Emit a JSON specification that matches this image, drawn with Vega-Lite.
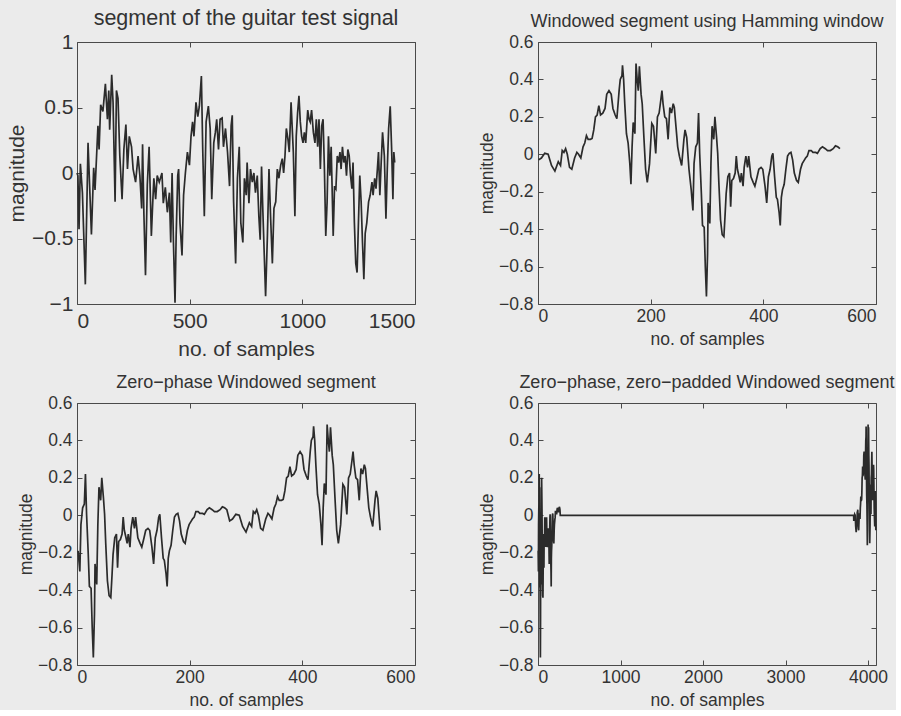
{
  "$schema": "https://vega.github.io/schema/vega-lite/v6.json",
  "background": "#ebebeb",
  "autosize": {"type": "pad"},
  "padding": {"left": 6, "top": 7, "right": 0, "bottom": 0},
  "columns": 2,
  "spacing": {"row": 99, "column": 123},
  "bounds": "flush",
  "config": {
    "font": "Liberation Sans",
    "view": {"stroke": "#4a4a4a", "strokeWidth": 1},
    "axis": {
      "grid": false,
      "domain": false,
      "tickColor": "#4a4a4a",
      "tickSize": -5,
      "labelColor": "#333333",
      "titleColor": "#333333",
      "labelFont": "Liberation Sans",
      "titleFont": "Liberation Sans",
      "titleFontWeight": "normal",
      "labelFontSize": 17.5,
      "titleFontSize": 17.5,
      "labelPadding": 8,
      "titlePadding": 6,
      "format": "~f"
    },
    "axisLeft": {"labelPadding": 10, "titlePadding": 2},
    "title": {"font": "Liberation Sans", "fontSize": 18, "fontWeight": "normal", "color": "#333333", "offset": 2}
  },
  "datasets": {
    "guitar": [
      {"n":0,"v":0.0},{"n":4,"v":-0.02},{"n":9,"v":-0.43},{"n":15,"v":0.07},{"n":24,"v":-0.15},{"n":37,"v":-0.85},
      {"n":49,"v":0.23},{"n":64,"v":-0.47},{"n":74,"v":0.04},{"n":80,"v":-0.13},{"n":93,"v":0.36},{"n":98,"v":0.18},
      {"n":105,"v":0.52},{"n":115,"v":0.47},{"n":126,"v":0.68},{"n":135,"v":0.41},{"n":141,"v":0.63},{"n":145,"v":0.33},
      {"n":154,"v":0.75},{"n":160,"v":0.54},{"n":169,"v":-0.22},{"n":175,"v":0.63},{"n":182,"v":0.57},{"n":190,"v":0.13},
      {"n":200,"v":-0.2},{"n":208,"v":0.18},{"n":217,"v":0.37},{"n":224,"v":0.03},{"n":232,"v":0.28},{"n":242,"v":0.2},
      {"n":249,"v":0.03},{"n":260,"v":-0.07},{"n":271,"v":0.13},{"n":279,"v":-0.02},{"n":287,"v":-0.27},{"n":291,"v":0.22},
      {"n":297,"v":-0.32},{"n":304,"v":-0.78},{"n":312,"v":-0.09},{"n":320,"v":0.2},{"n":330,"v":-0.48},{"n":335,"v":-0.27},
      {"n":341,"v":-0.04},{"n":349,"v":-0.2},{"n":356,"v":-0.02},{"n":365,"v":-0.07},{"n":377,"v":0.0},{"n":383,"v":-0.23},
      {"n":392,"v":-0.11},{"n":401,"v":-0.3},{"n":410,"v":-0.15},{"n":416,"v":-0.53},{"n":422,"v":0.0},{"n":428,"v":-0.53},
      {"n":435,"v":-0.99},{"n":440,"v":-0.48},{"n":447,"v":-0.02},{"n":451,"v":0.03},{"n":457,"v":-0.38},{"n":466,"v":-0.63},
      {"n":473,"v":-0.17},{"n":481,"v":0.0},{"n":490,"v":0.16},{"n":499,"v":0.06},{"n":506,"v":0.28},{"n":513,"v":0.39},
      {"n":519,"v":0.28},{"n":528,"v":0.54},{"n":536,"v":0.43},{"n":543,"v":0.51},{"n":552,"v":0.74},{"n":558,"v":0.18},
      {"n":565,"v":-0.33},{"n":573,"v":0.39},{"n":583,"v":0.51},{"n":591,"v":0.34},{"n":598,"v":-0.2},{"n":607,"v":0.23},
      {"n":614,"v":0.31},{"n":620,"v":0.41},{"n":628,"v":0.18},{"n":635,"v":0.41},{"n":644,"v":0.42},{"n":650,"v":0.2},
      {"n":659,"v":0.34},{"n":668,"v":0.16},{"n":677,"v":-0.1},{"n":684,"v":0.36},{"n":689,"v":0.44},{"n":695,"v":-0.22},
      {"n":704,"v":-0.69},{"n":712,"v":-0.04},{"n":720,"v":0.2},{"n":727,"v":-0.38},{"n":736,"v":-0.53},{"n":743,"v":-0.04},
      {"n":751,"v":-0.17},{"n":755,"v":0.08},{"n":763,"v":-0.23},{"n":770,"v":0.03},{"n":778,"v":-0.07},{"n":785,"v":0.0},
      {"n":792,"v":-0.15},{"n":800,"v":-0.02},{"n":807,"v":-0.33},{"n":813,"v":-0.51},{"n":819,"v":0.05},{"n":825,"v":-0.3},
      {"n":833,"v":-0.73},{"n":837,"v":-0.94},{"n":845,"v":-0.48},{"n":852,"v":0.03},{"n":859,"v":-0.33},{"n":867,"v":-0.69},
      {"n":874,"v":-0.27},{"n":882,"v":-0.22},{"n":889,"v":0.03},{"n":896,"v":-0.04},{"n":904,"v":0.06},{"n":911,"v":0.11},
      {"n":917,"v":0.0},{"n":923,"v":0.13},{"n":929,"v":0.34},{"n":936,"v":0.26},{"n":942,"v":0.16},{"n":950,"v":0.54},
      {"n":956,"v":0.31},{"n":960,"v":0.16},{"n":967,"v":-0.33},{"n":973,"v":0.28},{"n":979,"v":0.46},{"n":985,"v":0.59},
      {"n":991,"v":0.39},{"n":997,"v":0.28},{"n":1003,"v":0.23},{"n":1009,"v":0.31},{"n":1015,"v":0.23},{"n":1024,"v":0.48},
      {"n":1030,"v":0.41},{"n":1035,"v":0.39},{"n":1041,"v":0.48},{"n":1049,"v":0.31},{"n":1056,"v":0.23},{"n":1062,"v":0.41},
      {"n":1068,"v":0.2},{"n":1074,"v":0.41},{"n":1080,"v":0.03},{"n":1086,"v":0.36},{"n":1092,"v":0.41},{"n":1098,"v":0.03},
      {"n":1104,"v":-0.48},{"n":1110,"v":-0.22},{"n":1116,"v":0.28},{"n":1122,"v":-0.02},{"n":1128,"v":0.2},{"n":1137,"v":-0.48},
      {"n":1143,"v":-0.1},{"n":1149,"v":-0.12},{"n":1155,"v":0.13},{"n":1161,"v":0.08},{"n":1167,"v":0.16},{"n":1172,"v":0.03},
      {"n":1178,"v":0.2},{"n":1184,"v":0.08},{"n":1190,"v":0.13},{"n":1196,"v":-0.02},{"n":1202,"v":0.18},{"n":1208,"v":0.13},
      {"n":1214,"v":-0.02},{"n":1220,"v":-0.12},{"n":1225,"v":0.08},{"n":1231,"v":-0.38},{"n":1237,"v":-0.69},{"n":1243,"v":-0.76},
      {"n":1249,"v":-0.38},{"n":1255,"v":-0.02},{"n":1261,"v":-0.22},{"n":1267,"v":-0.53},{"n":1273,"v":-0.81},{"n":1279,"v":-0.46},
      {"n":1286,"v":-0.38},{"n":1294,"v":-0.22},{"n":1301,"v":-0.17},{"n":1309,"v":-0.07},{"n":1314,"v":-0.17},{"n":1321,"v":-0.04},
      {"n":1327,"v":-0.12},{"n":1333,"v":0.03},{"n":1338,"v":0.16},{"n":1344,"v":-0.17},{"n":1350,"v":0.08},{"n":1356,"v":0.31},
      {"n":1364,"v":0.13},{"n":1371,"v":-0.35},{"n":1377,"v":0.03},{"n":1383,"v":0.34},{"n":1390,"v":0.51},{"n":1396,"v":0.2},
      {"n":1402,"v":-0.2},{"n":1406,"v":0.16},{"n":1410,"v":0.08}
    ],
    "windowed": [
      {"n":1,"zp":271,"zpad":3827,"v":-0.03},{"n":6,"zp":276,"zpad":3832,"v":-0.02},{"n":12,"zp":282,"zpad":3838,"v":0.005},
      {"n":18,"zp":288,"zpad":3844,"v":0.0},{"n":24,"zp":294,"zpad":3850,"v":-0.06},{"n":30,"zp":300,"zpad":3856,"v":-0.09},
      {"n":36,"zp":306,"zpad":3862,"v":-0.04},{"n":40,"zp":310,"zpad":3866,"v":-0.06},{"n":43,"zp":313,"zpad":3869,"v":0.02},
      {"n":46,"zp":316,"zpad":3872,"v":0.01},{"n":49,"zp":319,"zpad":3875,"v":0.03},{"n":52,"zp":322,"zpad":3878,"v":0.0},
      {"n":56,"zp":326,"zpad":3882,"v":-0.07},{"n":60,"zp":330,"zpad":3886,"v":-0.08},{"n":65,"zp":335,"zpad":3891,"v":-0.02},
      {"n":69,"zp":339,"zpad":3895,"v":0.01},{"n":72,"zp":342,"zpad":3898,"v":0.0},{"n":76,"zp":346,"zpad":3902,"v":-0.02},
      {"n":80,"zp":350,"zpad":3906,"v":0.04},{"n":83,"zp":353,"zpad":3909,"v":0.06},{"n":86,"zp":356,"zpad":3912,"v":0.1},
      {"n":89,"zp":359,"zpad":3915,"v":0.08},{"n":93,"zp":363,"zpad":3919,"v":0.08},{"n":96,"zp":366,"zpad":3922,"v":0.085},
      {"n":99,"zp":369,"zpad":3925,"v":0.13},{"n":102,"zp":372,"zpad":3928,"v":0.2},{"n":105,"zp":375,"zpad":3931,"v":0.21},
      {"n":108,"zp":378,"zpad":3934,"v":0.26},{"n":111,"zp":381,"zpad":3937,"v":0.21},{"n":115,"zp":385,"zpad":3941,"v":0.22},
      {"n":119,"zp":389,"zpad":3945,"v":0.245},{"n":122,"zp":392,"zpad":3948,"v":0.32},{"n":126,"zp":396,"zpad":3952,"v":0.34},
      {"n":130,"zp":400,"zpad":3956,"v":0.32},{"n":133,"zp":403,"zpad":3959,"v":0.245},{"n":137,"zp":407,"zpad":3963,"v":0.21},
      {"n":140,"zp":410,"zpad":3966,"v":0.19},{"n":144,"zp":414,"zpad":3970,"v":0.34},{"n":146,"zp":416,"zpad":3972,"v":0.4},
      {"n":149,"zp":419,"zpad":3975,"v":0.42},{"n":150,"zp":420,"zpad":3976,"v":0.475},{"n":152,"zp":422,"zpad":3978,"v":0.4},
      {"n":154,"zp":424,"zpad":3980,"v":0.27},{"n":157,"zp":427,"zpad":3983,"v":0.11},{"n":160,"zp":430,"zpad":3986,"v":0.06},
      {"n":163,"zp":433,"zpad":3989,"v":-0.05},{"n":165,"zp":435,"zpad":3991,"v":-0.16},{"n":167,"zp":437,"zpad":3993,"v":0.04},
      {"n":169,"zp":439,"zpad":3995,"v":0.17},{"n":172,"zp":442,"zpad":3998,"v":0.11},{"n":174,"zp":444,"zpad":4000,"v":0.485},
      {"n":176,"zp":446,"zpad":4002,"v":0.4},{"n":178,"zp":448,"zpad":4004,"v":0.34},{"n":180,"zp":450,"zpad":4006,"v":0.47},
      {"n":183,"zp":453,"zpad":4009,"v":0.32},{"n":185,"zp":455,"zpad":4011,"v":0.27},{"n":188,"zp":458,"zpad":4014,"v":0.09},
      {"n":191,"zp":461,"zpad":4017,"v":-0.08},{"n":194,"zp":464,"zpad":4020,"v":-0.15},{"n":198,"zp":468,"zpad":4024,"v":-0.05},
      {"n":202,"zp":472,"zpad":4028,"v":0.165},{"n":205,"zp":475,"zpad":4031,"v":0.15},{"n":209,"zp":479,"zpad":4035,"v":0.005},
      {"n":212,"zp":482,"zpad":4038,"v":0.2},{"n":215,"zp":485,"zpad":4041,"v":0.22},{"n":218,"zp":488,"zpad":4044,"v":0.29},
      {"n":220,"zp":490,"zpad":4046,"v":0.34},{"n":222,"zp":492,"zpad":4048,"v":0.27},{"n":225,"zp":495,"zpad":4051,"v":0.2},
      {"n":228,"zp":498,"zpad":4054,"v":0.19},{"n":231,"zp":501,"zpad":4057,"v":0.08},{"n":234,"zp":504,"zpad":4060,"v":0.25},
      {"n":237,"zp":507,"zpad":4063,"v":0.22},{"n":240,"zp":510,"zpad":4066,"v":0.27},{"n":242,"zp":512,"zpad":4068,"v":0.25},
      {"n":244,"zp":514,"zpad":4070,"v":0.18},{"n":248,"zp":518,"zpad":4074,"v":0.04},{"n":251,"zp":521,"zpad":4077,"v":-0.01},
      {"n":255,"zp":525,"zpad":4081,"v":-0.06},{"n":259,"zp":529,"zpad":4085,"v":0.08},{"n":261,"zp":531,"zpad":4087,"v":0.13},
      {"n":264,"zp":534,"zpad":4090,"v":0.09},{"n":268,"zp":538,"zpad":4094,"v":-0.08},
      {"n":272,"zp":2,"zpad":2,"v":-0.19},{"n":275,"zp":5,"zpad":5,"v":-0.3},{"n":277,"zp":7,"zpad":7,"v":-0.05},
      {"n":280,"zp":10,"zpad":10,"v":0.04},{"n":283,"zp":13,"zpad":13,"v":0.06},{"n":285,"zp":15,"zpad":15,"v":0.22},
      {"n":287,"zp":17,"zpad":17,"v":0.005},{"n":290,"zp":20,"zpad":20,"v":-0.21},{"n":292,"zp":22,"zpad":22,"v":-0.38},
      {"n":295,"zp":25,"zpad":25,"v":-0.39},{"n":297,"zp":27,"zpad":27,"v":-0.6},{"n":299,"zp":29,"zpad":29,"v":-0.76},
      {"n":301,"zp":31,"zpad":31,"v":-0.53},{"n":302,"zp":32,"zpad":32,"v":-0.26},{"n":305,"zp":35,"zpad":35,"v":-0.37},
      {"n":307,"zp":37,"zpad":37,"v":-0.05},{"n":309,"zp":39,"zpad":39,"v":0.15},{"n":312,"zp":42,"zpad":42,"v":0.08},
      {"n":314,"zp":44,"zpad":44,"v":0.2},{"n":317,"zp":47,"zpad":47,"v":0.09},{"n":319,"zp":49,"zpad":49,"v":0.005},
      {"n":321,"zp":51,"zpad":51,"v":-0.15},{"n":324,"zp":54,"zpad":54,"v":-0.35},{"n":327,"zp":57,"zpad":57,"v":-0.43},
      {"n":330,"zp":60,"zpad":60,"v":-0.44},{"n":332,"zp":62,"zpad":62,"v":-0.33},{"n":334,"zp":64,"zpad":64,"v":-0.21},
      {"n":337,"zp":67,"zpad":67,"v":-0.12},{"n":340,"zp":70,"zpad":70,"v":-0.1},{"n":342,"zp":72,"zpad":72,"v":-0.28},
      {"n":344,"zp":74,"zpad":74,"v":-0.14},{"n":347,"zp":77,"zpad":77,"v":-0.13},{"n":350,"zp":80,"zpad":80,"v":-0.1},
      {"n":352,"zp":82,"zpad":82,"v":-0.01},{"n":354,"zp":84,"zpad":84,"v":-0.08},{"n":357,"zp":87,"zpad":87,"v":-0.12},
      {"n":359,"zp":89,"zpad":89,"v":-0.15},{"n":361,"zp":91,"zpad":91,"v":-0.1},{"n":364,"zp":94,"zpad":94,"v":-0.17},
      {"n":366,"zp":96,"zpad":96,"v":-0.07},{"n":369,"zp":99,"zpad":99,"v":-0.01},{"n":372,"zp":102,"zpad":102,"v":-0.07},
      {"n":374,"zp":104,"zpad":104,"v":-0.01},{"n":378,"zp":108,"zpad":108,"v":-0.12},{"n":382,"zp":112,"zpad":112,"v":-0.15},
      {"n":385,"zp":115,"zpad":115,"v":-0.17},{"n":389,"zp":119,"zpad":119,"v":-0.12},{"n":392,"zp":122,"zpad":122,"v":-0.08},
      {"n":396,"zp":126,"zpad":126,"v":-0.07},{"n":399,"zp":129,"zpad":129,"v":-0.08},{"n":403,"zp":133,"zpad":133,"v":-0.17},
      {"n":406,"zp":136,"zpad":136,"v":-0.26},{"n":409,"zp":139,"zpad":139,"v":-0.12},{"n":412,"zp":142,"zpad":142,"v":-0.08},
      {"n":415,"zp":145,"zpad":145,"v":-0.01},{"n":417,"zp":147,"zpad":147,"v":0.005},{"n":420,"zp":150,"zpad":150,"v":-0.12},
      {"n":423,"zp":153,"zpad":153,"v":-0.23},{"n":425,"zp":155,"zpad":155,"v":-0.24},{"n":428,"zp":158,"zpad":158,"v":-0.31},
      {"n":430,"zp":160,"zpad":160,"v":-0.38},{"n":432,"zp":162,"zpad":162,"v":-0.23},{"n":434,"zp":164,"zpad":164,"v":-0.19},
      {"n":437,"zp":167,"zpad":167,"v":-0.16},{"n":440,"zp":170,"zpad":170,"v":-0.08},{"n":443,"zp":173,"zpad":173,"v":-0.01},
      {"n":446,"zp":176,"zpad":176,"v":0.005},{"n":449,"zp":179,"zpad":179,"v":0.01},{"n":452,"zp":182,"zpad":182,"v":-0.03},
      {"n":455,"zp":185,"zpad":185,"v":-0.1},{"n":459,"zp":189,"zpad":189,"v":-0.14},{"n":462,"zp":192,"zpad":192,"v":-0.15},
      {"n":466,"zp":196,"zpad":196,"v":-0.08},{"n":469,"zp":199,"zpad":199,"v":-0.05},{"n":473,"zp":203,"zpad":203,"v":-0.03},
      {"n":475,"zp":205,"zpad":205,"v":-0.02},{"n":478,"zp":208,"zpad":208,"v":-0.01},{"n":481,"zp":211,"zpad":211,"v":0.02},
      {"n":485,"zp":215,"zpad":215,"v":0.02},{"n":488,"zp":218,"zpad":218,"v":0.01},{"n":493,"zp":223,"zpad":223,"v":0.01},
      {"n":496,"zp":226,"zpad":226,"v":0.005},{"n":501,"zp":231,"zpad":231,"v":0.03},{"n":505,"zp":235,"zpad":235,"v":0.04},
      {"n":510,"zp":240,"zpad":240,"v":0.03},{"n":514,"zp":244,"zpad":244,"v":0.02},{"n":519,"zp":249,"zpad":249,"v":0.02},
      {"n":524,"zp":254,"zpad":254,"v":0.03},{"n":528,"zp":258,"zpad":258,"v":0.045},{"n":532,"zp":262,"zpad":262,"v":0.04},
      {"n":536,"zp":266,"zpad":266,"v":0.03},
      {"zpad":270,"v":0.0},{"zpad":3825,"v":0.0}
    ]
  },
  "concat": [
    {
      "width": 338, "height": 262,
      "title": {"text": "segment of the guitar test signal", "fontSize": 21.5, "offset": 2},
      "data": {"name": "guitar"},
      "layer": [
        {
          "mark": {"type": "line", "color": "#2b2b2b", "strokeWidth": 1.7},
          "encoding": {
            "x": {"field": "n", "type": "quantitative", "scale": {"domain": [0, 1500], "nice": false, "zero": false},
                  "axis": {"orient": "bottom", "values": [0, 500, 1000, 1500], "title": "no. of samples", "labelFontSize": 21, "titleFontSize": 21, "labelPadding": 11, "titlePadding": 7}},
            "y": {"field": "v", "type": "quantitative", "scale": {"domain": [-1, 1], "nice": false},
                  "axis": {"orient": "left", "values": [-1, -0.5, 0, 0.5, 1], "title": "magnitude", "labelFontSize": 21, "titleFontSize": 21, "labelPadding": 9, "titlePadding": 4}}
          }
        },
        {
          "mark": {"type": "line", "opacity": 0},
          "encoding": {
            "x": {"field": "n", "type": "quantitative", "axis": {"orient": "top", "values": [0, 500, 1000, 1500], "labels": false, "title": null}},
            "y": {"field": "v", "type": "quantitative", "axis": {"orient": "right", "values": [-1, -0.5, 0, 0.5, 1], "labels": false, "title": null}}
          }
        }
      ],
      "resolve": {"axis": {"x": "independent", "y": "independent"}}
    },
    {
      "width": 338, "height": 262,
      "title": {"text": "Windowed segment using Hamming window"},
      "data": {"name": "windowed"},
      "transform": [{"filter": "isValid(datum.n)"}],
      "layer": [
        {
          "mark": {"type": "line", "color": "#2b2b2b", "strokeWidth": 1.7},
          "encoding": {
            "x": {"field": "n", "type": "quantitative", "scale": {"domain": [0, 600], "nice": false, "zero": false},
                  "axis": {"orient": "bottom", "values": [0, 200, 400, 600], "title": "no. of samples"}},
            "y": {"field": "v", "type": "quantitative", "scale": {"domain": [-0.8, 0.6], "nice": false},
                  "axis": {"orient": "left", "values": [-0.8, -0.6, -0.4, -0.2, 0, 0.2, 0.4, 0.6], "title": "magnitude"}}
          }
        },
        {
          "mark": {"type": "line", "opacity": 0},
          "encoding": {
            "x": {"field": "n", "type": "quantitative", "axis": {"orient": "top", "values": [0, 200, 400, 600], "labels": false, "title": null}},
            "y": {"field": "v", "type": "quantitative", "axis": {"orient": "right", "values": [-0.8, -0.6, -0.4, -0.2, 0, 0.2, 0.4, 0.6], "labels": false, "title": null}}
          }
        }
      ],
      "resolve": {"axis": {"x": "independent", "y": "independent"}}
    },
    {
      "width": 338, "height": 262,
      "title": {"text": "Zero−phase Windowed segment"},
      "data": {"name": "windowed"},
      "transform": [{"filter": "isValid(datum.zp)"}],
      "layer": [
        {
          "mark": {"type": "line", "color": "#2b2b2b", "strokeWidth": 1.7},
          "encoding": {
            "x": {"field": "zp", "type": "quantitative", "scale": {"domain": [0, 600], "nice": false, "zero": false},
                  "axis": {"orient": "bottom", "values": [0, 200, 400, 600], "title": "no. of samples"}},
            "y": {"field": "v", "type": "quantitative", "scale": {"domain": [-0.8, 0.6], "nice": false},
                  "axis": {"orient": "left", "values": [-0.8, -0.6, -0.4, -0.2, 0, 0.2, 0.4, 0.6], "title": "magnitude"}}
          }
        },
        {
          "mark": {"type": "line", "opacity": 0},
          "encoding": {
            "x": {"field": "zp", "type": "quantitative", "axis": {"orient": "top", "values": [0, 200, 400, 600], "labels": false, "title": null}},
            "y": {"field": "v", "type": "quantitative", "axis": {"orient": "right", "values": [-0.8, -0.6, -0.4, -0.2, 0, 0.2, 0.4, 0.6], "labels": false, "title": null}}
          }
        }
      ],
      "resolve": {"axis": {"x": "independent", "y": "independent"}}
    },
    {
      "width": 338, "height": 262,
      "title": {"text": "Zero−phase, zero−padded Windowed segment"},
      "data": {"name": "windowed"},
      "layer": [
        {
          "mark": {"type": "line", "color": "#2b2b2b", "strokeWidth": 1.7},
          "encoding": {
            "x": {"field": "zpad", "type": "quantitative", "scale": {"domain": [0, 4096], "nice": false, "zero": false},
                  "axis": {"orient": "bottom", "values": [0, 1000, 2000, 3000, 4000], "title": "no. of samples"}},
            "y": {"field": "v", "type": "quantitative", "scale": {"domain": [-0.8, 0.6], "nice": false},
                  "axis": {"orient": "left", "values": [-0.8, -0.6, -0.4, -0.2, 0, 0.2, 0.4, 0.6], "title": "magnitude"}}
          }
        },
        {
          "mark": {"type": "line", "opacity": 0},
          "encoding": {
            "x": {"field": "zpad", "type": "quantitative", "axis": {"orient": "top", "values": [0, 1000, 2000, 3000, 4000], "labels": false, "title": null}},
            "y": {"field": "v", "type": "quantitative", "axis": {"orient": "right", "values": [-0.8, -0.6, -0.4, -0.2, 0, 0.2, 0.4, 0.6], "labels": false, "title": null}}
          }
        }
      ],
      "resolve": {"axis": {"x": "independent", "y": "independent"}}
    }
  ]
}
